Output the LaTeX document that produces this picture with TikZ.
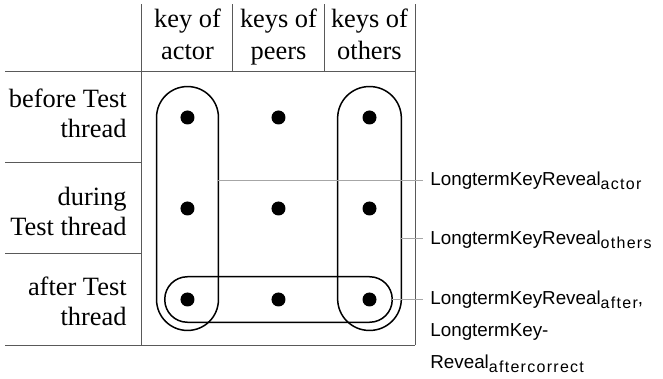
\documentclass[tikz,border=0pt]{standalone}
\usepackage{fontspec}
\setmainfont{Liberation Serif}
\setsansfont{Liberation Sans}
\usepackage{tikz}
\usetikzlibrary{calc}
\tikzset{
  gridline/.style={draw=black!65, line width=0.5pt},
  grpline/.style={draw=black, line width=0.75pt},
  leader/.style={draw=black!35, line width=0.5pt},
  keydot/.style={shape=circle, fill=black, draw=none, inner sep=0pt, minimum size=7pt},
  rowlabl/.style={anchor=east, inner sep=0pt, align=right, font=\fontsize{13.2}{15}\selectfont},
  headlabl/.style={inner sep=0pt, align=center, font=\fontsize{13.2}{16}\selectfont},
  taglabl/.style={anchor=base west, inner sep=3.5pt, align=left, font=\sffamily\fontsize{9.4}{16}\selectfont}
}
\newcommand{\tagsub}[1]{\raisebox{-2pt}{\fontsize{8}{8}\selectfont\addfontfeature{LetterSpace=8}#1}}
\newcommand{\dotvertex}[3]{\node[keydot] (#3) at ( #1 , #2 ) {};}
\newcommand{\grpbox}[5]{\draw[grpline, rounded corners=#5] ( #1 , #2 ) rectangle ( #3 , #4 );}
\newcommand{\lablrow}[3]{\node[rowlabl] (#3) at ( -0.165 , #1 ) {\strut #2\strut};}
\newcommand{\lablhead}[3]{\node[headlabl] (#3) at ( #1 , 3.387 ) {\strut #2\strut};}
\newcommand{\labltag}[3]{\node[taglabl] (#3) at ( 3.088 , #1 ) {#2};}

\begin{document}
\begin{tikzpicture}[x=45.5pt, y=45.5pt]
        \useasboundingbox (-1.5604,-0.3736) rectangle (5.7253,3.7912);

        % grid
        \draw[gridline] (0,0) -- (0,3.75);
        \draw[gridline] (1,3) -- (1,3.75);
        \draw[gridline] (2,3) -- (2,3.75);
        \draw[gridline] (3,0) -- (3,3.75);
        \draw[gridline] (-1.5,3) -- (3,3);
        \draw[gridline] (-1.5,2) -- (0,2);
        \draw[gridline] (-1.5,1) -- (0,1);
        \draw[gridline] (-1.5,0) -- (3,0);

        % heads
        \lablhead{0.5}{key of\\actor}{hactor}
        \lablhead{1.5}{keys of\\peers}{hpeers}
        \lablhead{2.5}{keys of\\others}{hothers}

        % rows
        \lablrow{2.516}{before Test\\thread}{rbefore}
        \lablrow{1.436}{during\\Test thread}{rduring}
        \lablrow{0.443}{after Test\\thread}{rafter}

        % dots
        \dotvertex{0.5}{2.5}{d13}
        \dotvertex{1.5}{2.5}{d23}
        \dotvertex{2.5}{2.5}{d33}

        \dotvertex{0.5}{1.5}{d12}
        \dotvertex{1.5}{1.5}{d22}
        \dotvertex{2.5}{1.5}{d32}

        \dotvertex{0.5}{0.5}{d11}
        \dotvertex{1.5}{0.5}{d21}
        \dotvertex{2.5}{0.5}{d31}

        % groups
        \grpbox{0.16}{0.16}{0.84}{2.84}{15.4pt}
        \grpbox{2.15}{0.16}{2.85}{2.84}{15.8pt}
        \grpbox{0.25}{0.25}{2.75}{0.75}{11.3pt}

        % tags
        \labltag{1.758}{LongtermKeyReveal\tagsub{actor}}{tactor}
        \labltag{1.099}{LongtermKeyReveal\tagsub{others}}{tothers}
        \labltag{0.4396}{LongtermKeyReveal\tagsub{after},}{tafter}
        \node[taglabl] (tafterb) at ([yshift=-16pt]tafter.base west) {LongtermKey-};
        \node[taglabl] (tafterc) at ([yshift=-16pt]tafterb.base west) {Reveal\tagsub{aftercorrect}};

        \coordinate (gactor) at (0.84,1.813);
        \coordinate (gothers) at (2.85,1.165);
        \coordinate (gafter) at (2.75,0.505);
        \draw[leader] (gactor) -- (gactor -| tactor.west);
        \draw[leader] (gothers) -- (gothers -| tothers.west);
        \draw[leader] (gafter) -- (gafter -| tafter.west);

\end{tikzpicture}
\end{document}
